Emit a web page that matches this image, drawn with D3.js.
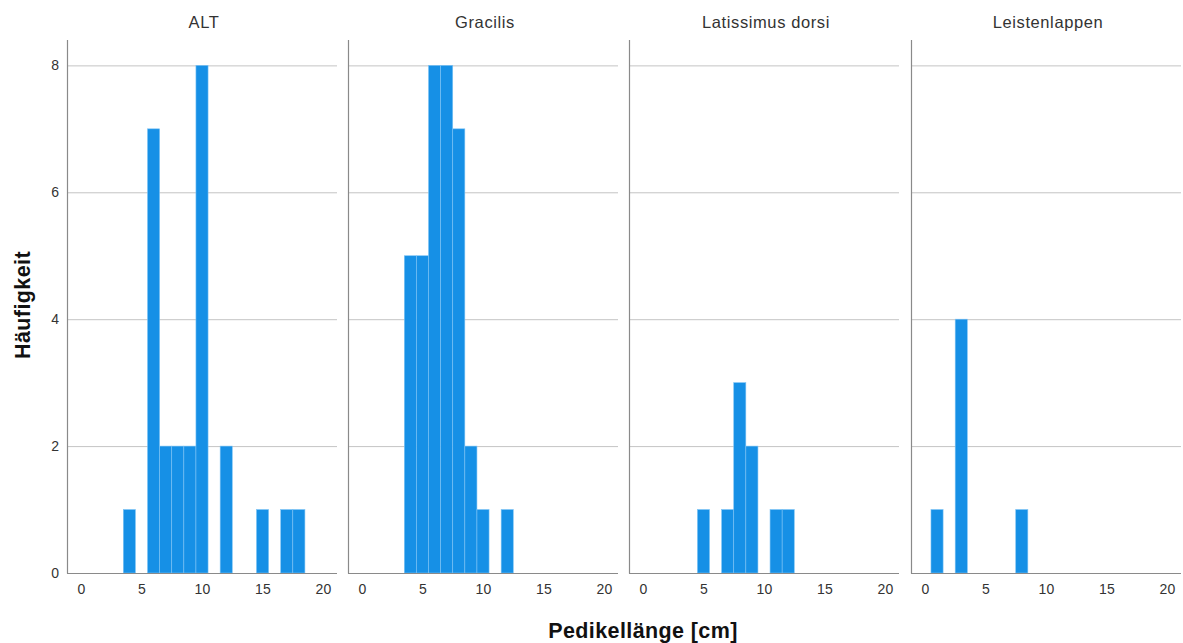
<!DOCTYPE html>
<html>
<head>
<meta charset="utf-8">
<script src="https://cdn.jsdelivr.net/npm/d3@7"></script>
<style>
  body { margin: 0; background: #fff; }
  text { font-family: "Liberation Sans", Arial, sans-serif; }
</style>
</head>
<body>
<div id="chart"></div>
<script>
// panels and histogram counts (bin centre in cm -> frequency)
const panels = ["ALT", "Gracilis", "Latissimus dorsi", "Leistenlappen"];
const altBins = [4, 6, 7, 8, 9, 10, 12, 15, 17, 18];
const altCounts = [1, 7, 2, 2, 2, 8, 2, 1, 1, 1];
const gracilisBins = [4, 5, 6, 7, 8, 9, 10, 12];
const gracilisCounts = [5, 5, 8, 8, 7, 2, 1, 1];
const latBins = [5, 7, 8, 9, 11, 12];
const latCounts = [1, 1, 3, 2, 1, 1];
const leisteBins = [1, 3, 8];
const leisteCounts = [1, 4, 1];
const xTicks = [0, 5, 10, 15, 20];
const yTicks = [0, 2, 4, 6, 8];

const series = [
  altBins.map((b, i) => ({bin: b, n: altCounts[i]})),
  gracilisBins.map((b, i) => ({bin: b, n: gracilisCounts[i]})),
  latBins.map((b, i) => ({bin: b, n: latCounts[i]})),
  leisteBins.map((b, i) => ({bin: b, n: leisteCounts[i]}))
];

const W = 1183, H = 643;
const panelLeft = [67, 348, 629, 911], panelW = 270;
const plotTop = 40, plotBottom = 573;

const svg = d3.select("#chart").append("svg")
  .attr("width", W).attr("height", H);

const y = d3.scaleLinear().domain([0, 8.4]).range([plotBottom, plotTop]);

panels.forEach((name, p) => {
  const x = d3.scaleLinear().domain([-1.15, 21.15])
    .range([panelLeft[p], panelLeft[p] + panelW]);
  const g = svg.append("g");

  // gridlines
  g.selectAll("line.grid")
    .data(yTicks.slice(1))
    .join("line")
      .attr("x1", panelLeft[p]).attr("x2", panelLeft[p] + panelW)
      .attr("y1", d => y(d) + 0.5).attr("y2", d => y(d) + 0.5)
      .attr("stroke", "#c4c4c4").attr("stroke-width", 1);

  // bars
  g.selectAll("rect")
    .data(series[p])
    .join("rect")
      .attr("x", d => x(d.bin - 0.5))
      .attr("width", d => x(d.bin + 0.5) - x(d.bin - 0.5))
      .attr("y", d => y(d.n))
      .attr("height", d => y(0) - y(d.n))
      .attr("fill", "#1690e6")
      .attr("stroke", "#7cc3f5")
      .attr("stroke-width", 0.6);

  // axis lines
  g.append("line")
    .attr("x1", panelLeft[p] + 0.5).attr("x2", panelLeft[p] + 0.5)
    .attr("y1", plotTop).attr("y2", plotBottom + 0.5)
    .attr("stroke", "#8a8a8a").attr("stroke-width", 1.2);
  g.append("line")
    .attr("x1", panelLeft[p]).attr("x2", panelLeft[p] + panelW)
    .attr("y1", plotBottom + 0.5).attr("y2", plotBottom + 0.5)
    .attr("stroke", "#8a8a8a").attr("stroke-width", 1.2);

  // x tick labels
  const xAxis = g.append("g")
    .attr("transform", `translate(0,${plotBottom})`)
    .call(d3.axisBottom(x).tickValues(xTicks).tickSize(0).tickPadding(11));
  xAxis.select(".domain").remove();
  xAxis.selectAll("text")
    .style("font-size", "14px").style("letter-spacing", "0.3px").attr("fill", "#333");

  // panel title
  g.append("text")
    .attr("x", panelLeft[p] + panelW / 2 + 2)
    .attr("y", 28)
    .attr("text-anchor", "middle")
    .style("font-size", "16.5px")
    .style("letter-spacing", "0.6px")
    .attr("fill", "#333")
    .text(name);
});

// y tick labels on the first panel
const yAxis = svg.append("g")
  .attr("transform", `translate(${panelLeft[0]},0)`)
  .call(d3.axisLeft(y).tickValues(yTicks).tickSize(0).tickPadding(8));
yAxis.select(".domain").remove();
yAxis.selectAll("text").style("font-size", "14px").attr("fill", "#333");

// axis titles
svg.append("text")
  .attr("transform", "translate(30,305) rotate(-90)")
  .attr("text-anchor", "middle")
  .style("font-size", "21.5px").style("font-weight", "bold")
  .style("letter-spacing", "0.4px")
  .attr("fill", "#111")
  .text("Häufigkeit");

svg.append("text")
  .attr("x", 643).attr("y", 638)
  .attr("text-anchor", "middle")
  .style("font-size", "21.5px").style("font-weight", "bold")
  .style("letter-spacing", "0.4px")
  .attr("fill", "#111")
  .text("Pedikellänge [cm]");
</script>
</body>
</html>
